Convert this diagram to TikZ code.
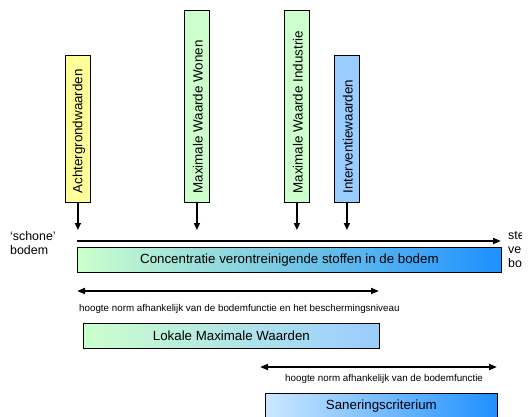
\documentclass[tikz,border=0pt]{standalone}
\usepackage{fontspec}
\setmainfont{Liberation Sans}
\usepackage{xcolor}
\definecolor{Geel}{HTML}{FFFF99}
\definecolor{Groen}{HTML}{CCFFCC}
\definecolor{Lichtblauw}{HTML}{99CCFF}
\definecolor{Blauw}{HTML}{1E90FF}
\definecolor{IJsblauw}{HTML}{CCE8FF}
\usetikzlibrary{arrows.meta,positioning,calc}
\tikzset{
  paal/.style={draw=black,line width=0.8pt,minimum width=25pt,inner sep=0pt,anchor=north west},
  paaltekst/.style={rotate=90,anchor=west,inner sep=0pt,font=\fontsize{13.4}{15}\selectfont},
  balk/.style={draw=black,line width=0.8pt,minimum height=25pt,inner sep=0pt,anchor=north west,
    font=\fontsize{13.3}{15}\selectfont},
  pijl/.style={-{Triangle[length=7pt,width=6pt]},line width=1.5pt},
  hoofdpijl/.style={-{Triangle[length=8pt,width=6pt]},line width=1.8pt},
  bereik/.style={{Triangle[length=8pt,width=6pt]}-{Triangle[length=8pt,width=6pt]},line width=1.8pt},
  klein/.style={inner sep=0pt,anchor=north west,font=\fontsize{9.8}{11}\selectfont},
  zij/.style={align=left,inner sep=0pt,anchor=north west,font=\fontsize{12.4}{14}\selectfont}
}

\begin{document}
\begin{tikzpicture}[x=1pt,y=-1pt]
  \useasboundingbox (0,0) rectangle (532,416);
  % normen bovenaan
  \node[paal,fill=Geel,minimum height=147pt] (achter) at (65,55) {};
  \node[paal,fill=Groen,minimum height=192pt] (wonen) at (184,10) {};
  \node[paal,fill=Groen,minimum height=192pt] (industrie) at (284,10) {};
  \node[paal,fill=Lichtblauw,minimum height=147pt] (interventie) at (334,55) {};
  \node[paaltekst] (achtertxt) at ($(achter.south)+(1,-9)$) {Achtergrondwaarden};
  \node[paaltekst] (wonentxt) at ($(wonen.south)+(1,-9)$) {Maximale Waarde Wonen};
  \node[paaltekst] (industrietxt) at ($(industrie.south)+(1,-9)$) {Maximale Waarde Industrie};
  \node[paaltekst] (interventietxt) at ($(interventie.south)+(1,-9)$) {Interventiewaarden};
  \coordinate (kop) at (0,230);
  \foreach \n in {achter,wonen,industrie,interventie}
    \draw[pijl] (\n.south) -- (\n.south |- kop);
  % concentratie-as
  \coordinate (schoon) at (77,241);
  \coordinate (vuil) at (501,241);
  \draw[hoofdpijl] (schoon) -- (vuil);
  \node[zij] (links) at (10,231) {‘schone’\\bodem};
  \begin{scope}
    \clip (0,0) rectangle (521,416);
    \node[zij] (rechts) at (508,230) {sterk\\verontreinigde\\bodem};
  \end{scope}
  \node[balk,minimum width=424pt,left color=Groen,right color=Blauw] (conc) at (77,247)
    {Concentratie verontreinigende stoffen in de bodem};
  % lokale maximale waarden
  \coordinate (lmwl) at (77,291);
  \coordinate (lmwr) at (379,291);
  \draw[bereik] (lmwl) -- (lmwr);
  \node[klein] (lmwtxt) at (79,304)
    {hoogte norm afhankelijk van de bodemfunctie en het beschermingsniveau};
  \node[balk,minimum width=296pt,left color=Groen,right color=Lichtblauw] (lmw) at (83,323)
    {Lokale Maximale Waarden};
  % saneringscriterium
  \coordinate (sanl) at (260,367);
  \coordinate (sanr) at (497,367);
  \draw[bereik] (sanl) -- (sanr);
  \node[klein] (santxt) at (285,374) {hoogte norm afhankelijk van de bodemfunctie};
  \node[balk,minimum width=232pt,left color=IJsblauw,right color=Blauw] (san) at (265,393)
    {Saneringscriterium};
\end{tikzpicture}
\end{document}
